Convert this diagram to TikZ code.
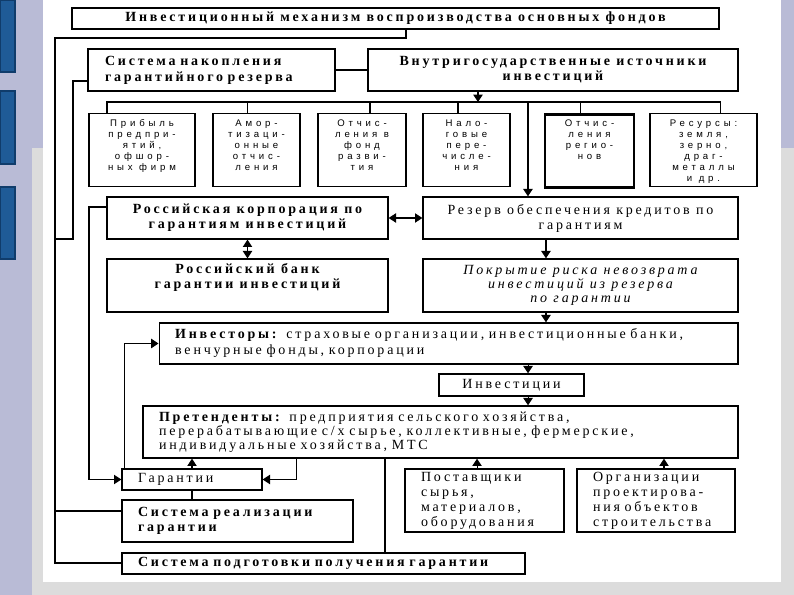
\documentclass[tikz,border=0pt]{standalone}
\usepackage{fontspec}
\setmainfont{Liberation Serif}[LetterSpace=20]
\newfontfamily\sansbox{Liberation Sans}[LetterSpace=40]
\usetikzlibrary{arrows.meta,positioning}
\definecolor{lav}{HTML}{B9BBD6}
\definecolor{pagegrey}{HTML}{DCDCDC}
\definecolor{barblue}{HTML}{1F5B97}
\definecolor{bardark}{HTML}{103C6B}
\newcommand\fsz{\fontsize{10.5}{11.25}\selectfont}
\newcommand\smf{\sansbox\fontsize{7.2}{8.25}\selectfont}
\tikzset{
  box/.style={draw, line width=1pt, inner sep=0pt, align=center, font=\fsz},
  hd/.style={box, font=\fsz\bfseries},
  thk/.style={line width=2.2pt},
  lbox/.style={box, align=left, inner xsep=12pt, inner ysep=1pt},
  sm/.style={draw, line width=0.8pt, anchor=north, align=center, inner xsep=0pt,
             inner ysep=3pt, font=\smf},
  smfour/.style={sm, text height=31.15pt, text depth=17.6pt},
  smfive/.style={sm, text height=39.4pt, text depth=9.35pt},
  smsix/.style={sm, text height=47.65pt, text depth=1.1pt},
  wire/.style={line width=0.8pt},
  rail/.style={line width=1.5pt},
  ar/.style={wire, -{Triangle[length=5.5pt,width=7pt]}},
  dar/.style={wire, {Triangle[length=5.5pt,width=7pt]}-{Triangle[length=5.5pt,width=7pt]}},
}
\begin{document}
\begin{tikzpicture}[x=0.75pt,y=-0.75pt]
  \useasboundingbox (0,0) rectangle (794,595);
  % slide backdrop
  \fill[lav] (0,0) rectangle (794,595);
  \fill[pagegrey] (32,148) rectangle (794,595);
  \fill[white] (43,0) rectangle (781,582);
  \foreach \ya/\yb in {0/72,91/164,187/259}
    \filldraw[fill=barblue, draw=bardark, line width=1pt] (0,\ya) rectangle (15,\yb);

  % top
  \node[hd, line width=2pt, minimum width=485.25pt, minimum height=15.75pt] (title) at (395.5,18.5)
    {Инвестиционный механизм воспроизводства основных фондов};
  \node[hd, thk, align=left, text width=159.75pt, inner xsep=12.75pt, minimum height=31.5pt,
        font=\fontsize{10.5}{12}\selectfont\bfseries] (nak) at (211.5,70)
    {Система накопления\\гарантийного резерва};
  \node[hd, thk, minimum width=277.5pt, minimum height=31.5pt] (vnut) at (553,70)
    {Внутригосударственные источники\\инвестиций};

  % sources
  \node[smfive, minimum width=79.5pt] (prib) at (142,113) {Прибыль\\предпри-\\ятий,\\офшор-\\ных фирм};
  \node[smfive, minimum width=65.25pt] (amor) at (256.5,113) {Амор-\\тизаци-\\онные\\отчис-\\ления};
  \node[smfive, minimum width=66pt] (otfd) at (362,113) {Отчис-\\ления в\\фонд\\разви-\\тия};
  \node[smfive, minimum width=65.25pt] (nalo) at (466.5,113) {Нало-\\говые\\пере-\\числе-\\ния};
  \node[smfour, line width=2.2pt, minimum width=66.75pt] (otrg) at (589.5,113) {Отчис-\\ления\\регио-\\нов};
  \node[smsix, minimum width=80.25pt] (resu) at (703.5,113) {Ресурсы:\\земля,\\зерно,\\драг-\\металлы\\и др.};

  % guarantees
  \node[hd, minimum width=210.75pt, minimum height=31.5pt] (corp) at (247.5,218)
    {Российская корпорация по\\гарантиям инвестиций};
  \node[hd, minimum width=210.75pt, text height=22.5pt, text depth=17.25pt] (bank) at (247.5,285.5)
    {Российский банк\\гарантии инвестиций};
  \node[box, minimum width=236.25pt, minimum height=31.5pt] (rez) at (580.5,218)
    {Резерв обеспечения кредитов по\\гарантиям};
  \node[box, font=\fontsize{10.5}{10.2}\selectfont\itshape, minimum width=236.25pt, minimum height=39.75pt] (pokr) at (580.5,285.5)
    {Покрытие риска невозврата\\инвестиций из резерва\\по гарантии};

  % flow
  \node[lbox, text width=410pt, minimum height=30.75pt, font=\fontsize{10.5}{12}\selectfont] (inv) at (448.5,343.5)
    {\textbf{Инвесторы:} страховые организации, инвестиционные банки,\\венчурные фонды, корпорации};
  \node[box, minimum width=108.75pt, minimum height=16.5pt] (invc) at (511.5,385) {Инвестиции};
  \node[lbox, text width=422.25pt, minimum height=39pt, font=\fontsize{10.5}{10.5}\selectfont] (pret) at (440.5,432)
    {\textbf{Претенденты:} предприятия сельского хозяйства,\\перерабатывающие с/х сырье, коллективные, фермерские,\\индивидуальные хозяйства, МТС};
  \node[lbox, text width=81pt, minimum height=15.75pt] (gar) at (192,479.5) {Гарантии};
  \node[lbox, font=\fsz\bfseries, text width=149.25pt, minimum height=31.5pt] (sreal) at (237.5,521)
    {Система реализации\\гарантии};
  \node[lbox, font=\fsz\bfseries, text width=278.25pt, minimum height=15.75pt] (spod) at (323.5,563.5)
    {Система подготовки получения гарантии};
  \node[lbox, text width=95.25pt, minimum height=47.25pt] (post) at (484.5,500.5)
    {Поставщики\\сырья,\\материалов,\\оборудования};
  \node[lbox, text width=94.5pt, minimum height=47.25pt] (org) at (656,500.5)
    {Организации\\проектирова-\\ния объектов\\строительства};

  % connectors
  \coordinate (outer) at (55,38);
  \draw[rail] ([xshift=7.9pt]title.south) |- (outer) |- (spod.west);
  \draw[wire] ([yshift=7.5pt]sreal.west) -- ([yshift=7.5pt]sreal.west -| outer);
  \coordinate (nk) at (73,239);
  \draw[wire] ([yshift=-8.25pt]nak.west) -| (nk) -- (nk -| outer);
  \draw[wire] (nak.east) -- (vnut.west);
  \coordinate (bus) at (478,102);
  \draw[ar] ([xshift=-56.25pt]vnut.south) -- (bus);
  \draw[wire] ([xshift=-26.25pt]prib.north) |- (bus) -| ([xshift=12.4pt]resu.north);
  \foreach \b/\s in {amor/-7.1,otfd/6,nalo/-6.4,otrg/-7.1}
    \draw[wire] ([xshift=\s pt]\b.north) -- ([xshift=\s pt]\b.north |- bus);
  \draw[ar] ([xshift=-39.4pt]rez.north |- bus) -- ([xshift=-39.4pt]rez.north);
  \draw[dar] (corp.east) -- (rez.west);
  \draw[dar] (corp.south) -- (bank.north);
  \draw[ar] ([xshift=-25.9pt]rez.south) -- ([xshift=-25.9pt]pokr.north);
  \draw[ar] ([xshift=-25.9pt]pokr.south) -- ([xshift=-25.9pt]pokr.south |- inv.north);
  \draw[ar] ([xshift=12.4pt]invc.north |- inv.south) -- ([xshift=12.4pt]invc.north);
  \draw[ar] ([xshift=12.4pt]invc.south) -- ([xshift=12.4pt]invc.south |- pret.north);
  \draw[ar] (gar.north) -- (gar.north |- pret.south);
  \draw[ar] ([xshift=25.5pt]gar.east |- pret.south) |- (gar.east);
  \draw[wire] ([xshift=46.1pt]spod.north |- pret.south) -- ([xshift=46.1pt]spod.north);
  \draw[ar] ([xshift=-5.6pt]post.north) -- ([xshift=-5.6pt]post.north |- pret.south);
  \draw[ar] ([xshift=6pt]org.north) -- ([xshift=6pt]org.north |- pret.south);
  \draw[wire] (gar.south) -- (gar.south |- sreal.north);
  \coordinate (gl) at (89,479.5);
  \draw[ar] ([yshift=8.25pt]corp.west) -| (gl) -- (gar.west);
  \draw[ar] ([xshift=2.25pt]gar.north west) |- (inv.west);
\end{tikzpicture}
\end{document}
